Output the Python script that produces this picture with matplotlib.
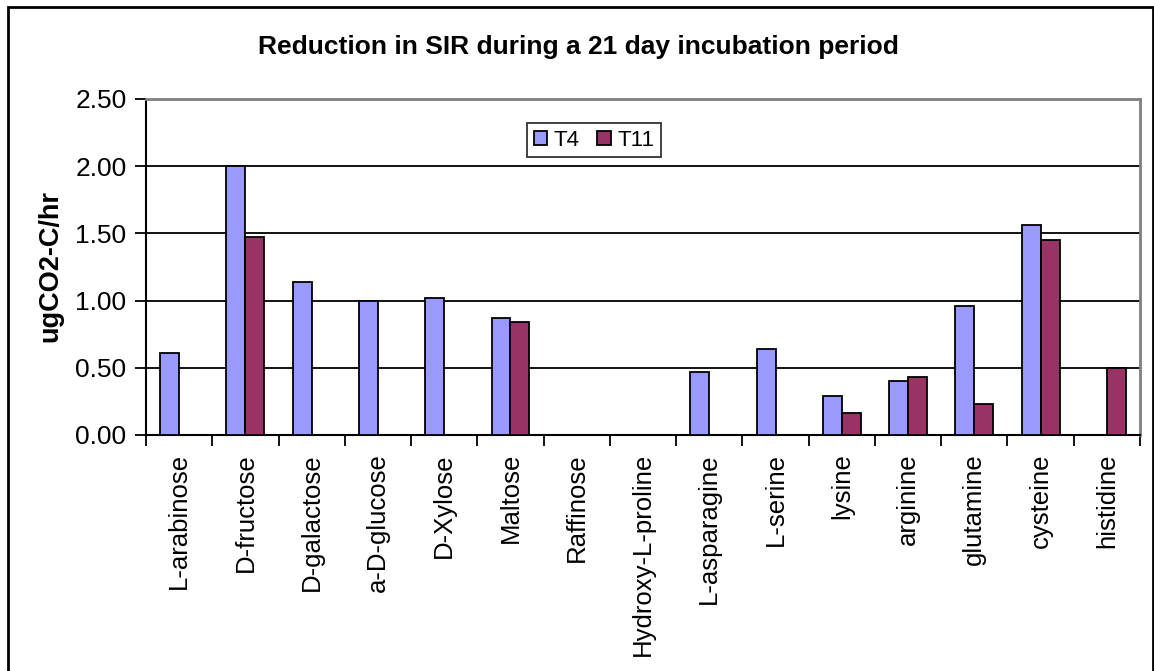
import numpy as np
import matplotlib.pyplot as plt
from matplotlib.patches import Rectangle

plt.rcParams['font.family'] = ['Liberation Sans', 'DejaVu Sans']

substrates = ['L-arabinose', 'D-fructose', 'D-galactose', 'a-D-glucose', 'D-Xylose',
              'Maltose', 'Raffinose', 'Hydroxy-L-proline', 'L-asparagine', 'L-serine',
              'lysine', 'arginine', 'glutamine', 'cysteine', 'histidine']
t4 = [0.61, 2.00, 1.14, 1.00, 1.02, 0.87, 0.0, 0.0, 0.47, 0.64, 0.29, 0.40, 0.96, 1.56, 0.0]
t11 = [0.0, 1.47, 0.0, 0.0, 0.0, 0.84, 0.0, 0.0, 0.0, 0.0, 0.16, 0.43, 0.23, 1.45, 0.50]
yticks = [0.0, 0.5, 1.0, 1.5, 2.0, 2.5]

W, H = 1154, 671
fig = plt.figure(figsize=(W / 100, H / 100), dpi=100)

# outer chart border (bottom edge runs off the canvas)
fig.patches.append(Rectangle((8 / W, -0.05), (1153 - 8) / W, 1.05 - 7 / H,
                             transform=fig.transFigure, fill=False,
                             edgecolor='black', linewidth=2))

ax = fig.add_axes([146 / W, 1 - 435 / H, (1140 - 146) / W, (435 - 99) / H])

x = np.arange(len(substrates))
w = 1 / 3.5
ax.bar(x - w / 2, t4, w, color='#9999FF', edgecolor='black', linewidth=1.3, label='T4', zorder=3)
ax.bar(x + w / 2, t11, w, color='#993366', edgecolor='black', linewidth=1.3, label='T11', zorder=3)

ax.set_xlim(-0.5, len(substrates) - 0.5)
ax.set_ylim(0, 2.5)
ax.set_yticks(yticks)
ax.set_yticklabels([f'{v:.2f}' for v in yticks], fontsize=19)
ax.yaxis.grid(True, color='black', linewidth=1.3, zorder=0)
ax.set_axisbelow(True)

# category ticks sit between the groups, labels under each group
ax.set_xticks(np.arange(len(substrates) + 1) - 0.5)
ax.set_xticklabels([])
ax.set_xticks(x, minor=True)
ax.set_xticklabels(substrates, minor=True, rotation=90, fontsize=18.5)
ax.tick_params(axis='x', which='minor', length=0, pad=13)
ax.tick_params(axis='x', which='major', length=8, width=1.3, direction='out')
ax.tick_params(axis='y', length=8, width=1.3, direction='out', pad=6)

for side in ('left', 'bottom'):
    ax.spines[side].set_linewidth(1.5)
    ax.spines[side].set_color('black')
for side in ('top', 'right'):
    ax.spines[side].set_linewidth(2)
    ax.spines[side].set_color('#808080')

fig.text(50 / W, 1 - 266 / H, 'ugCO2-C/hr', rotation=90, ha='center', va='center',
         fontsize=19.5, fontweight='bold')

fig.text(578 / W, 1 - 47 / H, 'Reduction in SIR during a 21 day incubation period',
         ha='center', va='center', fontsize=19, fontweight='bold')

leg = ax.legend(loc='center', bbox_to_anchor=(594 / W, 1 - 140 / H),
                bbox_transform=fig.transFigure, ncol=2, fontsize=16, frameon=True,
                fancybox=False, edgecolor='black', handlelength=0.6, handleheight=0.6,
                handletextpad=0.3, columnspacing=0.8, borderpad=0.3)
leg.get_frame().set_linewidth(1.3)

fig.savefig('out.png', dpi=100)
